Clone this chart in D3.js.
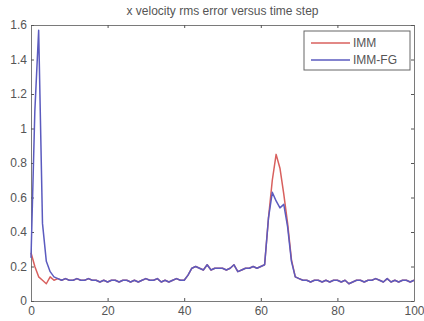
<!DOCTYPE html>
<html>
<head>
<meta charset="utf-8">
<script src="https://cdn.jsdelivr.net/npm/d3@7"></script>
<style>
  body { margin: 0; background: #fff; }
  text { font-family: 'Liberation Sans', Arial, sans-serif; }
</style>
</head>
<body>
<div class="canvas"></div>
<script>
const title = 'x velocity rms error versus time step';
const seriesNames = ['IMM', 'IMM-FG'];
const xTicks = [0, 20, 40, 60, 80, 100];
const yTicks = [0, 0.2, 0.4, 0.6, 0.8, 1, 1.2, 1.4, 1.6];

// rms error per time step, 0..100
const imm = [
  0.28, 0.20, 0.14, 0.12, 0.10, 0.14, 0.12, 0.13, 0.12, 0.13,
  0.12, 0.12, 0.13, 0.12, 0.12, 0.13, 0.12, 0.12, 0.11, 0.12,
  0.11, 0.12, 0.12, 0.11, 0.12, 0.12, 0.11, 0.12, 0.11, 0.12,
  0.13, 0.12, 0.12, 0.13, 0.11, 0.12, 0.11, 0.12, 0.13, 0.12,
  0.12, 0.15, 0.19, 0.20, 0.19, 0.18, 0.21, 0.18, 0.19, 0.19,
  0.19, 0.18, 0.19, 0.21, 0.17, 0.18, 0.19, 0.19, 0.20, 0.19,
  0.20, 0.21, 0.48, 0.70, 0.85, 0.77, 0.62, 0.45, 0.24, 0.14,
  0.13, 0.12, 0.12, 0.11, 0.12, 0.12, 0.11, 0.12, 0.11, 0.12,
  0.12, 0.11, 0.12, 0.10, 0.11, 0.12, 0.12, 0.11, 0.12, 0.12,
  0.13, 0.12, 0.11, 0.13, 0.11, 0.12, 0.11, 0.12, 0.12, 0.11,
  0.12
];
const immFg = [
  0.25, 1.10, 1.57, 0.45, 0.23, 0.17, 0.14, 0.13, 0.12, 0.13,
  0.12, 0.12, 0.13, 0.12, 0.12, 0.13, 0.12, 0.12, 0.11, 0.12,
  0.11, 0.12, 0.12, 0.11, 0.12, 0.12, 0.11, 0.12, 0.11, 0.12,
  0.13, 0.12, 0.12, 0.13, 0.11, 0.12, 0.11, 0.12, 0.13, 0.12,
  0.12, 0.15, 0.19, 0.20, 0.19, 0.18, 0.21, 0.18, 0.19, 0.19,
  0.19, 0.18, 0.19, 0.21, 0.17, 0.18, 0.19, 0.19, 0.20, 0.19,
  0.20, 0.21, 0.48, 0.63, 0.58, 0.54, 0.56, 0.43, 0.23, 0.14,
  0.13, 0.12, 0.12, 0.11, 0.12, 0.12, 0.11, 0.12, 0.11, 0.12,
  0.12, 0.11, 0.12, 0.10, 0.11, 0.12, 0.12, 0.11, 0.12, 0.12,
  0.13, 0.12, 0.11, 0.13, 0.11, 0.12, 0.11, 0.12, 0.12, 0.11,
  0.12
];

const colors = ['#d8605e', '#5b5bbf'];
const dims = { width: 424, height: 321 };
const box = { left: 31, right: 414, top: 25, bottom: 301 };

const svg = d3
  .select('.canvas')
  .append('svg')
  .attr('width', dims.width)
  .attr('height', dims.height);

const x = d3.scaleLinear().domain([0, 100]).range([box.left, box.right]);
const y = d3.scaleLinear().domain([0, 1.6]).range([box.bottom, box.top]);

const styleAxis = (g) => {
  g.select('.domain').attr('stroke', '#7a7a7a');
  g.selectAll('.tick line').attr('stroke', '#555');
  g.selectAll('text').attr('fill', '#555').style('font-size', '12px');
};

svg
  .append('g')
  .attr('transform', `translate(0, ${box.bottom})`)
  .call(d3.axisBottom(x).tickValues(xTicks).tickSize(-3).tickSizeOuter(0).tickPadding(5))
  .call(styleAxis);

svg
  .append('g')
  .attr('transform', `translate(0, ${box.top})`)
  .call(d3.axisTop(x).tickValues(xTicks).tickSize(-3).tickSizeOuter(0).tickFormat(''))
  .call(styleAxis);

svg
  .append('g')
  .attr('transform', `translate(${box.left}, 0)`)
  .call(d3.axisLeft(y).tickValues(yTicks).tickSize(-3).tickSizeOuter(0).tickPadding(4).tickFormat(d3.format('~g')))
  .call(styleAxis);

svg
  .append('g')
  .attr('transform', `translate(${box.right}, 0)`)
  .call(d3.axisRight(y).tickValues(yTicks).tickSize(-3).tickSizeOuter(0).tickFormat(''))
  .call(styleAxis);

svg
  .append('text')
  .attr('x', (box.left + box.right) / 2)
  .attr('y', 15)
  .attr('text-anchor', 'middle')
  .attr('fill', '#555')
  .style('font-size', '12px')
  .text(title);

const line = d3
  .line()
  .x((d, i) => x(i))
  .y((d) => y(d));

[imm, immFg].forEach((series, i) => {
  svg
    .append('path')
    .datum(series)
    .attr('d', line)
    .attr('fill', 'none')
    .attr('stroke', colors[i])
    .attr('stroke-width', 1.5)
    .attr('stroke-linejoin', 'round');
});

const legend = svg.append('g').attr('transform', 'translate(304, 31)');

legend
  .append('rect')
  .attr('width', 106)
  .attr('height', 39)
  .attr('fill', '#fff')
  .attr('stroke', '#666');

const legendItems = legend
  .selectAll('.legend-item')
  .data(seriesNames)
  .enter()
  .append('g')
  .attr('class', 'legend-item')
  .attr('transform', (d, i) => `translate(0, ${12 + i * 17})`);

legendItems
  .append('line')
  .attr('x1', 7)
  .attr('x2', 46)
  .attr('stroke', (d, i) => colors[i])
  .attr('stroke-width', 1.5);

legendItems
  .append('text')
  .attr('x', 49)
  .attr('y', 4)
  .attr('fill', '#555')
  .style('font-size', '12px')
  .text((d) => d);
</script>
</body>
</html>
